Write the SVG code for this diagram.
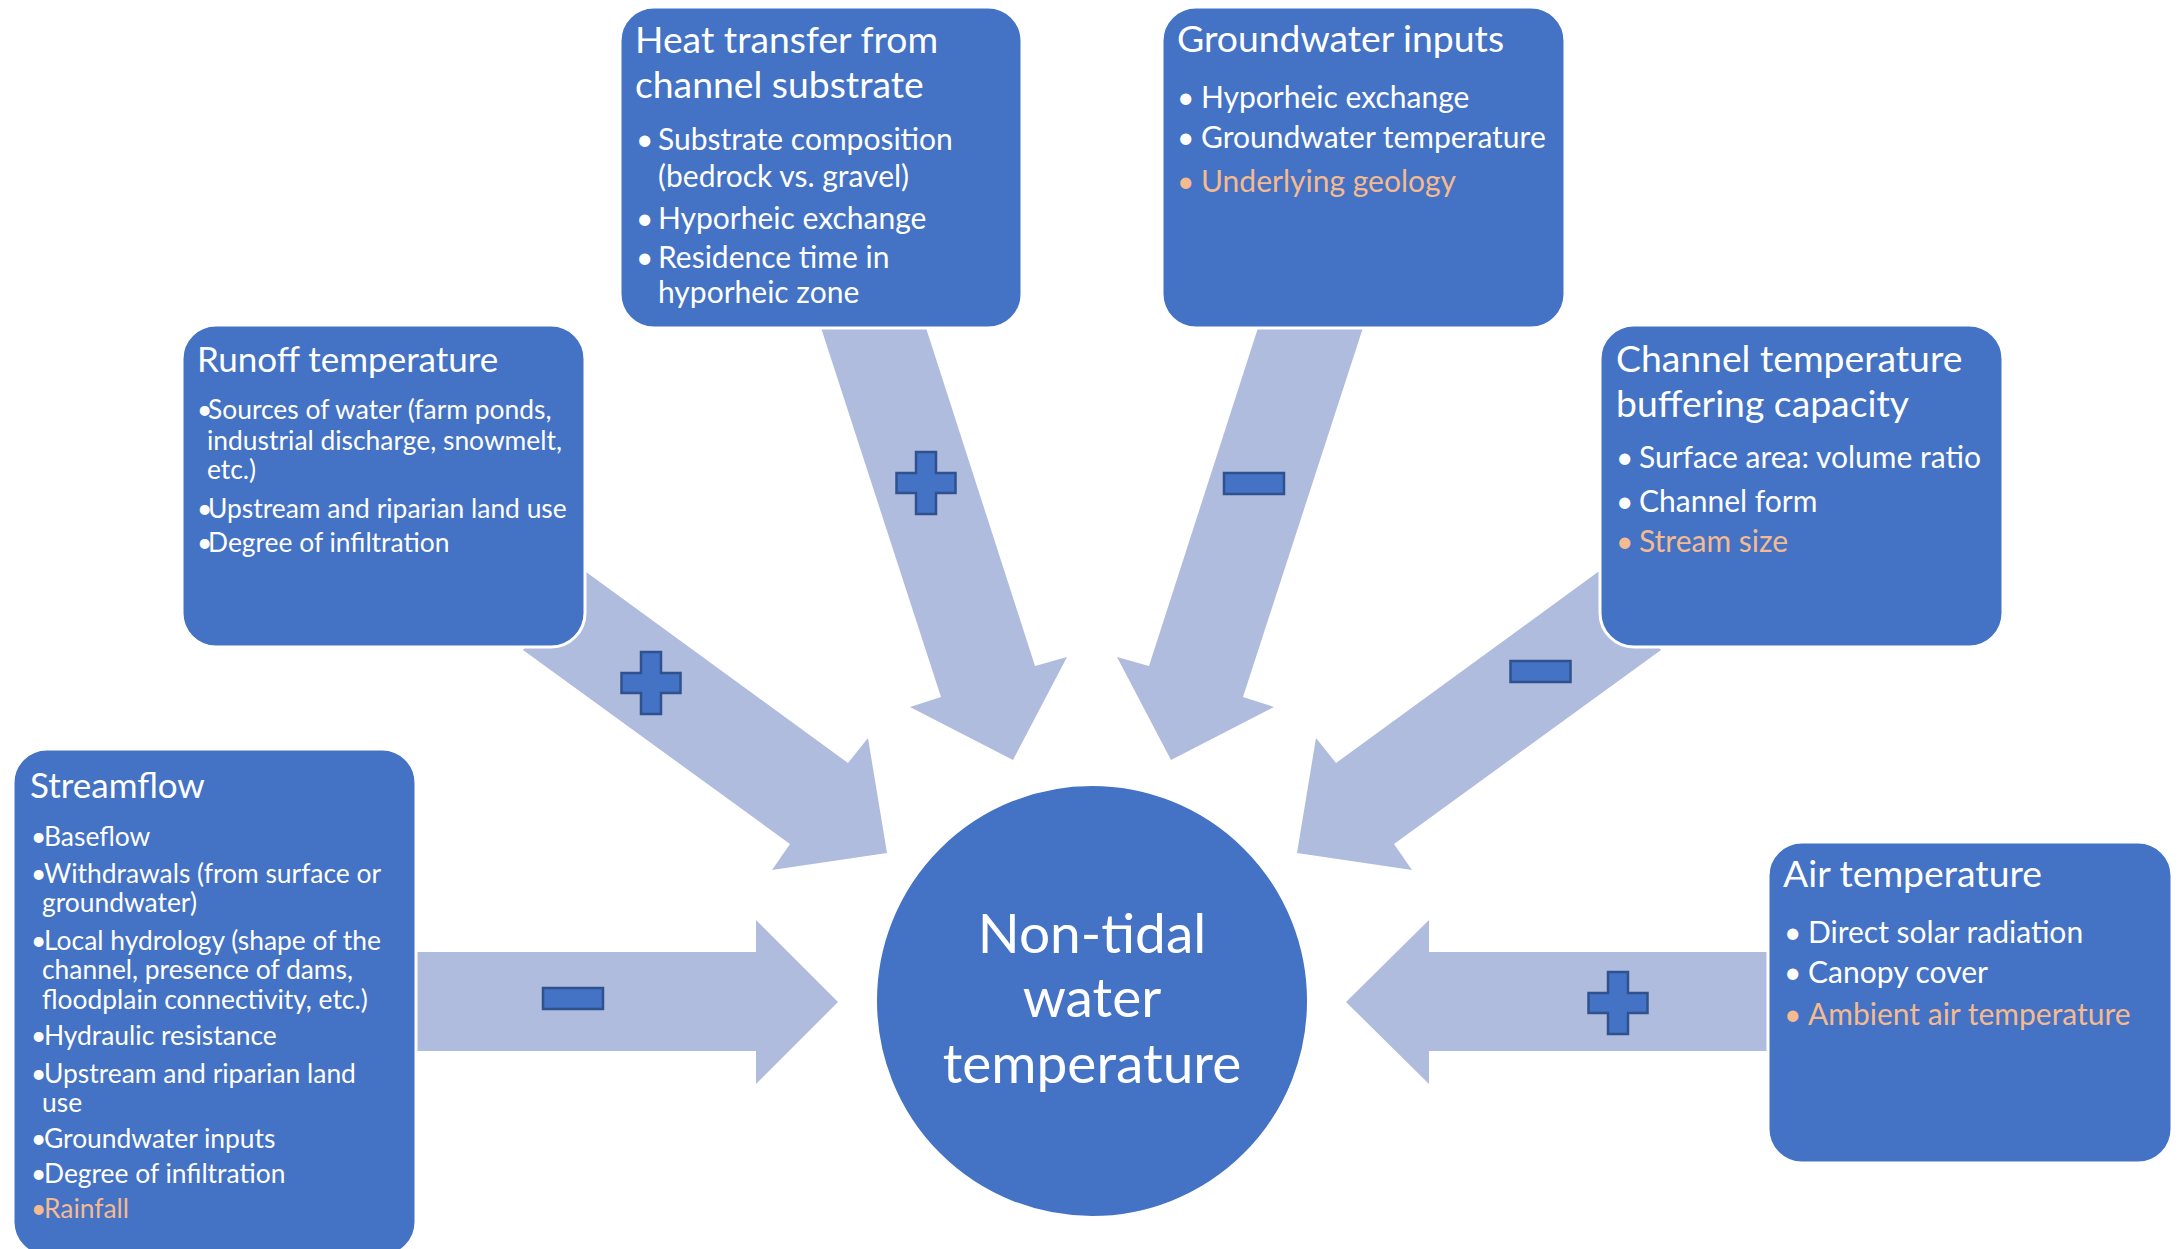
<svg xmlns="http://www.w3.org/2000/svg" xmlns:xlink="http://www.w3.org/1999/xlink" width="2178" height="1249" viewBox="0 0 2178 1249">
<defs>
<style>
.box{fill:#4472C4;stroke:#FFFFFF;stroke-width:3}
.arrow{fill:#B0BCDE}
.sign{fill:#4472C4;stroke:#2F528F;stroke-width:2.5}
text{font-family:Lato,"Liberation Sans",sans-serif;fill:#FFFFFF}
.title{font-size:35px}
.body{font-size:26.4px}
.title2{font-size:37.3px}
.body2{font-size:30px}
.hl{fill:#F4BA90}
.center{font-size:55px;text-anchor:middle}
</style>
<path id="plus" d="M-10,-31 H10 V-10 H29.5 V10 H10 V31 H-10 V10 H-29.5 V-10 H-10 Z"/>
<rect id="minus" x="-30" y="-10.5" width="60" height="21"/>
</defs>
<rect width="2178" height="1249" fill="#FFFFFF"/>

<g id="connectors">
<polygon class="arrow" points="582,569 848,763 868,738 887,853 772,870 790,844 523,650"/>
<polygon class="arrow" points="1602,569 1336,763 1316,738 1297,853 1412,870 1394,844 1661,650"/>
<polygon class="arrow" points="812,300 917,300 1035,666 1067,657 1013,760 910,707 941,697"/>
<polygon class="arrow" points="1267,300 1372,300 1243,697 1274,707 1171,760 1117,657 1149,666"/>
<polygon class="arrow" points="400,952 756,952 756,920 838,1002 756,1084 756,1051 400,1051"/>
<polygon class="arrow" points="1784,952 1429,952 1429,920 1346,1002 1429,1084 1429,1051 1784,1051"/>
<use xlink:href="#plus" class="sign" x="651" y="683"/>
<use xlink:href="#plus" class="sign" x="926" y="483"/>
<use xlink:href="#plus" class="sign" x="1618" y="1003"/>
<use xlink:href="#minus" class="sign" x="1254" y="483.5"/>
<use xlink:href="#minus" class="sign" x="1540.5" y="671.5"/>
<use xlink:href="#minus" class="sign" x="573" y="998.5"/>
</g>

<g id="streamflow">
<rect class="box" x="13" y="749" width="403" height="507" rx="34"/>
<text class="title" x="30" y="798">Streamflow</text>
<text class="body"><tspan x="31" y="846">•</tspan><tspan x="44" y="846">Baseflow</tspan></text>
<text class="body"><tspan x="31" y="883">•</tspan><tspan x="44" y="883">Withdrawals (from surface or</tspan><tspan x="42" y="912">groundwater)</tspan></text>
<text class="body"><tspan x="31" y="950">•</tspan><tspan x="44" y="950">Local hydrology (shape of the</tspan><tspan x="42" y="979">channel, presence of dams,</tspan><tspan x="42" y="1009">floodplain connectivity, etc.)</tspan></text>
<text class="body"><tspan x="31" y="1045">•</tspan><tspan x="44" y="1045">Hydraulic resistance</tspan></text>
<text class="body"><tspan x="31" y="1083">•</tspan><tspan x="44" y="1083">Upstream and riparian land</tspan><tspan x="42" y="1112">use</tspan></text>
<text class="body"><tspan x="31" y="1148">•</tspan><tspan x="44" y="1148">Groundwater inputs</tspan></text>
<text class="body"><tspan x="31" y="1183">•</tspan><tspan x="44" y="1183">Degree of infiltration</tspan></text>
<text class="body hl"><tspan x="31" y="1218">•</tspan><tspan x="44" y="1218">Rainfall</tspan></text>
</g>

<g id="runoff">
<rect class="box" x="182" y="325" width="403" height="322" rx="34"/>
<text class="title" x="197" y="372">Runoff temperature</text>
<text class="body"><tspan x="197" y="419">•</tspan><tspan x="208" y="419">Sources of water (farm ponds,</tspan><tspan x="207" y="450">industrial discharge, snowmelt,</tspan><tspan x="207" y="479">etc.)</tspan></text>
<text class="body"><tspan x="197" y="518">•</tspan><tspan x="208" y="518">Upstream and riparian land use</tspan></text>
<text class="body"><tspan x="197" y="552">•</tspan><tspan x="208" y="552">Degree of infiltration</tspan></text>
</g>

<g id="heat-transfer">
<rect class="box" x="620" y="7" width="402" height="321" rx="34"/>
<text class="title2"><tspan x="635" y="53">Heat transfer from</tspan><tspan x="635" y="98">channel substrate</tspan></text>
<text class="body2"><tspan x="636" y="150">•</tspan><tspan x="658" y="150">Substrate composition</tspan><tspan x="658" y="187">(bedrock vs. gravel)</tspan></text>
<text class="body2"><tspan x="636" y="229">•</tspan><tspan x="658" y="229">Hyporheic exchange</tspan></text>
<text class="body2"><tspan x="636" y="268">•</tspan><tspan x="658" y="268">Residence time in</tspan><tspan x="658" y="303">hyporheic zone</tspan></text>
</g>

<g id="groundwater">
<rect class="box" x="1162" y="7" width="403" height="321" rx="34"/>
<text class="title2" x="1177" y="52">Groundwater inputs</text>
<text class="body2"><tspan x="1177" y="108">•</tspan><tspan x="1201" y="108">Hyporheic exchange</tspan></text>
<text class="body2"><tspan x="1177" y="148">•</tspan><tspan x="1201" y="148">Groundwater temperature</tspan></text>
<text class="body2 hl"><tspan x="1177" y="192">•</tspan><tspan x="1201" y="192">Underlying geology</tspan></text>
</g>

<g id="channel-buffering">
<rect class="box" x="1600" y="325" width="403" height="322" rx="34"/>
<text class="title2"><tspan x="1616" y="372">Channel temperature</tspan><tspan x="1616" y="417">buffering capacity</tspan></text>
<text class="body2"><tspan x="1616" y="468">•</tspan><tspan x="1639" y="468">Surface area: volume ratio</tspan></text>
<text class="body2"><tspan x="1616" y="512">•</tspan><tspan x="1639" y="512">Channel form</tspan></text>
<text class="body2 hl"><tspan x="1616" y="552">•</tspan><tspan x="1639" y="552">Stream size</tspan></text>
</g>

<g id="air-temperature">
<rect class="box" x="1768" y="842" width="404" height="321" rx="34"/>
<text class="title2" x="1783" y="887">Air temperature</text>
<text class="body2"><tspan x="1784" y="943">•</tspan><tspan x="1808" y="943">Direct solar radiation</tspan></text>
<text class="body2"><tspan x="1784" y="983">•</tspan><tspan x="1808" y="983">Canopy cover</tspan></text>
<text class="body2 hl"><tspan x="1784" y="1025">•</tspan><tspan x="1808" y="1025">Ambient air temperature</tspan></text>
</g>

<g id="water-temperature">
<circle class="box" cx="1092" cy="1001" r="216.5"/>
<text class="center"><tspan x="1092" y="953">Non-tidal</tspan><tspan x="1092" y="1017">water</tspan><tspan x="1092" y="1083">temperature</tspan></text>
</g>
</svg>
